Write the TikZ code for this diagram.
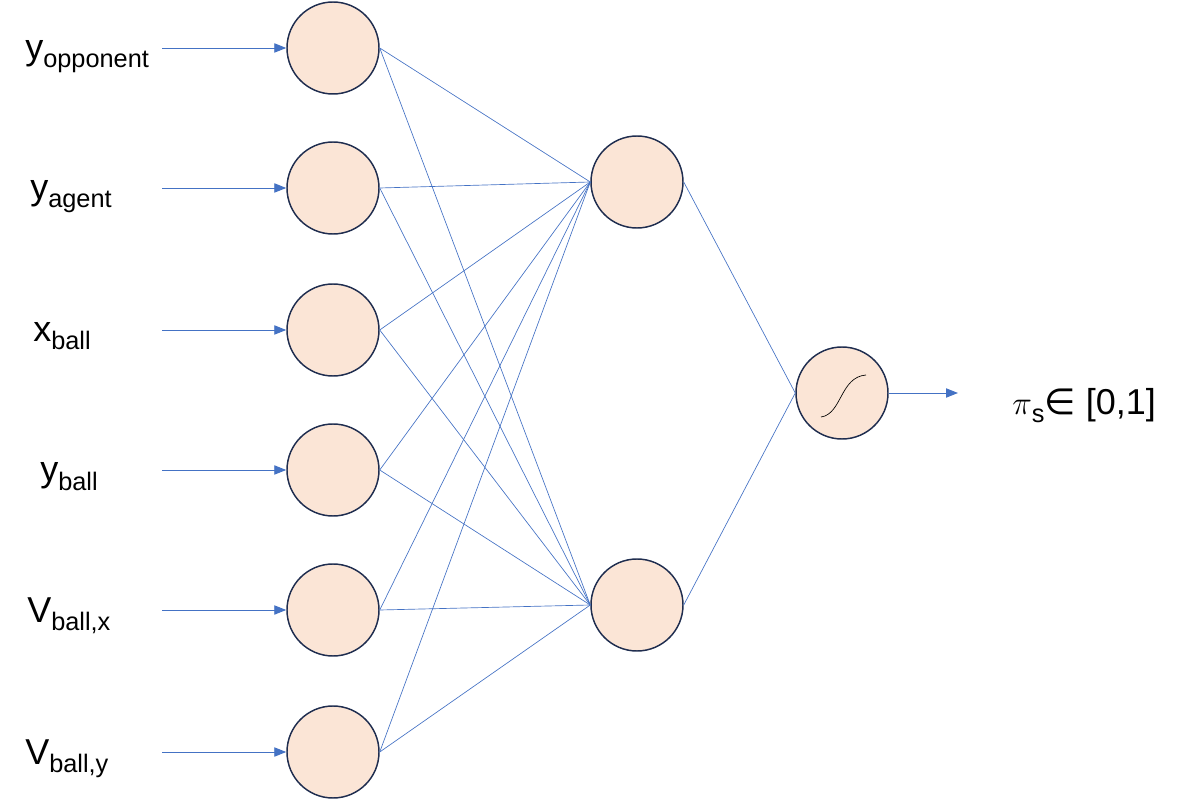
\documentclass[tikz,border=0pt]{standalone}
\usepackage{fontspec}
\setmainfont{Liberation Sans}
\newfontfamily\symfont{DejaVu Sans}
\usetikzlibrary{arrows.meta}
\definecolor{wire}{HTML}{4472C4}
\definecolor{cellfill}{HTML}{FBE5D6}
\definecolor{cellline}{HTML}{1F2D4F}
\newcommand{\lbl}[2]{{\fontsize{27}{27}\selectfont #1}{\fontsize{19}{19}\selectfont\raisebox{-6pt}{#2}}}
\begin{document}
\begin{tikzpicture}[x=0.75pt,y=-0.75pt,
    cell/.style={circle,draw=cellline,fill=cellfill,line width=1.1pt,minimum size=69pt,inner sep=0pt},
    wiring/.style={wire,line width=0.5pt},
    feed/.style={wire,line width=0.7pt,-{Triangle[length=9pt,width=7pt]}}]
    \useasboundingbox (0,0) rectangle (1183,802);

    % input layer
    \foreach \i/\y/\lx/\main/\sub in {1/48/25/y/opponent,2/188/30/y/agent,3/330/33/x/ball,4/470/40/y/ball,5/610/27/V/{ball,x},6/752/25/V/{ball,y}}{
        \node[cell] (in\i) at (333,\y) {};
        \node[anchor=base west,inner sep=0pt] (lab\i) at (\lx,\y+12) {\lbl{\main}{\sub}};
        \coordinate (src\i) at (162,\y);
        \draw[feed] (src\i) -- (in\i);
    }

    % hidden and output
    \node[cell] (h1) at (637,182) {};
    \node[cell] (h2) at (637,605) {};
    \node[cell] (out) at (842,393) {};
    \draw[line width=0.5pt] (821,417) .. controls (842,414) and (840,377) .. (866,375);

    \foreach \i in {1,...,6}{
        \draw[wiring] (in\i.east) -- (h1.west);
        \draw[wiring] (in\i.east) -- (h2.west);
    }
    \draw[wiring] (h1.east) -- (out.west);
    \draw[wiring] (h2.east) -- (out.west);

    \coordinate (dst) at (958,393);
    \draw[feed] (out) -- (dst);
    \node[anchor=base west,inner sep=0pt] (res) at (1012,415)
        {{\fontsize{27}{27}\selectfont$\pi$}{\fontsize{19}{19}\selectfont\raisebox{-6pt}{s}}{\fontsize{27}{27}\selectfont{\symfont ∈} [0,1]}};
\end{tikzpicture}
\end{document}
